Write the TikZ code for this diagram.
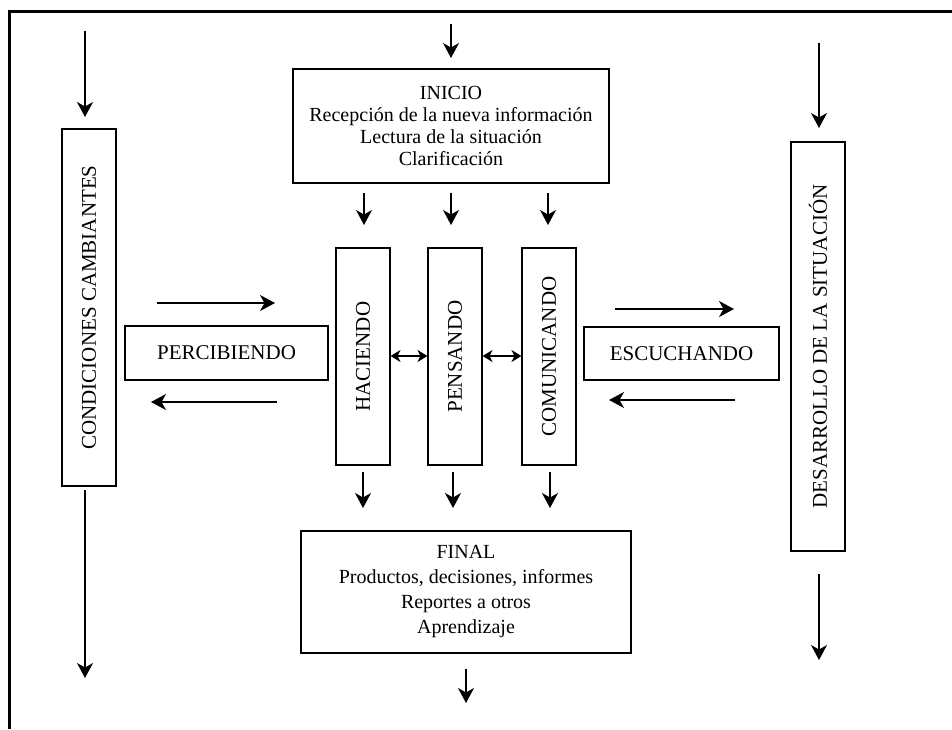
\documentclass[tikz,border=0pt]{standalone}
\usepackage{fontspec}
\setmainfont{Liberation Serif}
\usetikzlibrary{arrows.meta}
\begin{document}
\begin{tikzpicture}[x=1pt,y=-1pt,
  box/.style={draw,line width=1.1pt,inner sep=0pt,font=\fontsize{21}{25}\selectfont},
  vbox/.style={box,rotate=90},
  infobox/.style={draw,line width=1.1pt,inner sep=0pt,align=center},
  arr/.style={line width=1.4pt,-{Stealth[length=15pt,width=16pt,inset=4.5pt]}},
  dbl/.style={line width=1.4pt,{Stealth[length=10pt,width=12pt,inset=3pt]}-{Stealth[length=10pt,width=12pt,inset=3pt]}}
]
\useasboundingbox (0,0) rectangle (952,729);

% frame: top and left edges only
\draw[line width=3pt] (9,729) -- (9,11) -- (952,11);

% boxes
\node[infobox,minimum width=316pt,minimum height=114pt,
      font=\fontsize{20}{21.7}\selectfont] (inicio) at (451,126)
  {INICIO\\Recepción de la nueva información\\Lectura de la situación\\Clarificación};
\node[infobox,minimum width=330pt,minimum height=122pt,
      font=\fontsize{20}{25}\selectfont] (final) at (466,592)
  {FINAL\\Productos, decisiones, informes\\Reportes a otros\\Aprendizaje};

\node[vbox,minimum width=357pt,minimum height=54pt] (cond) at (89,307.5) {CONDICIONES CAMBIANTES};
\node[vbox,minimum width=409pt,minimum height=54pt] (desa) at (818,346.5) {DESARROLLO DE LA SITUACIÓN};
\node[vbox,minimum width=217pt,minimum height=54pt] (hac) at (363,356.5) {HACIENDO};
\node[vbox,minimum width=217pt,minimum height=54pt] (pen) at (455,356.5) {PENSANDO};
\node[vbox,minimum width=217pt,minimum height=54pt] (com) at (549,356.5) {COMUNICANDO};
\node[box,minimum width=203pt,minimum height=54pt] (perc) at (226.5,353) {PERCIBIENDO};
\node[box,minimum width=195pt,minimum height=53pt] (escu) at (681.5,353.5) {ESCUCHANDO};

% arrow end points
\coordinate (cIn1) at (85,31);   \coordinate (cIn2) at (85,117);
\coordinate (cOut1) at (85,490); \coordinate (cOut2) at (85,678);
\coordinate (dIn1) at (819,43);  \coordinate (dIn2) at (819,128);
\coordinate (dOut1) at (819,574);\coordinate (dOut2) at (819,660);
\coordinate (iIn1) at (451,24);  \coordinate (iIn2) at (451,58);
\coordinate (fOut1) at (466,669);\coordinate (fOut2) at (466,703);
\coordinate (pR1) at (157,303);  \coordinate (pR2) at (275,303);
\coordinate (pL1) at (277,402);  \coordinate (pL2) at (151,402);
\coordinate (eR1) at (615,309);  \coordinate (eR2) at (734,309);
\coordinate (eL1) at (735,400);  \coordinate (eL2) at (609,400);

\draw[arr] (cIn1) -- (cIn2);
\draw[arr] (cOut1) -- (cOut2);
\draw[arr] (dIn1) -- (dIn2);
\draw[arr] (dOut1) -- (dOut2);
\draw[arr] (iIn1) -- (iIn2);
\draw[arr] (fOut1) -- (fOut2);
\draw[arr] (pR1) -- (pR2);
\draw[arr] (pL1) -- (pL2);
\draw[arr] (eR1) -- (eR2);
\draw[arr] (eL1) -- (eL2);

% from INICIO down to the three columns
\foreach \x/\n in {364/a,451/b,548/c}{
  \coordinate (t\n1) at (\x,193); \coordinate (t\n2) at (\x,225);
  \draw[arr] (t\n1) -- (t\n2);
}
% from the three columns down to FINAL
\foreach \x/\n in {363/a,453/b,550/c}{
  \coordinate (b\n1) at (\x,472); \coordinate (b\n2) at (\x,508);
  \draw[arr] (b\n1) -- (b\n2);
}

% links between the columns
\draw[dbl] (hac.south |- 0,356) -- (pen.north |- 0,356);
\draw[dbl] (pen.south |- 0,356) -- (com.north |- 0,356);
\end{tikzpicture}
\end{document}
